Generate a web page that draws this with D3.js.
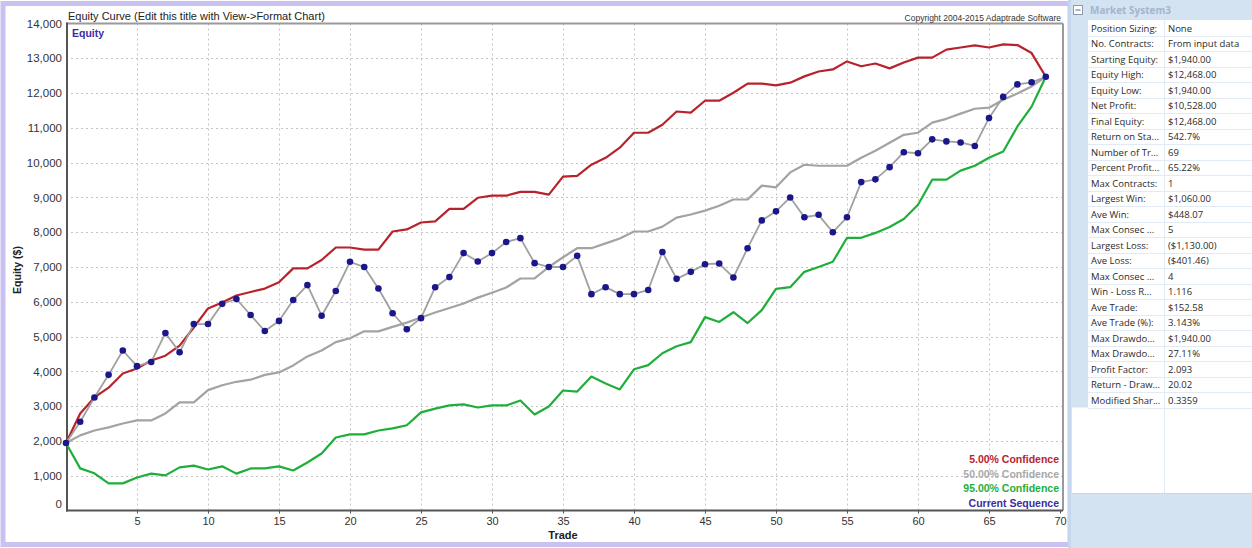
<!DOCTYPE html>
<html lang="en">
<head>
<meta charset="UTF-8">
<title>Equity Curve</title>
<style>
    html, body { margin: 0; padding: 0; background: #fff; }
    svg { display: block; font-family: "Liberation Sans", Arial, sans-serif; }
</style>
</head>
<body>
<svg width="1252" height="548"></svg>
<script src="https://d3js.org/d3.v7.min.js"></script>
<script>
// equity after each trade (trade 0 = starting equity)
const equity = [1940, 2550, 3250, 3900, 4600, 4150, 4270, 5100, 4550, 5360,
    5360, 5940, 6080, 5620, 5160, 5450, 6050, 6480, 5600, 6310,
    7150, 7000, 6380, 5670, 5210, 5530, 6420, 6710, 7400, 7160,
    7400, 7720, 7830, 7110, 7000, 7000, 7320, 6220, 6420, 6220,
    6220, 6340, 7430, 6660, 6860, 7080, 7100, 6700, 7540, 8340,
    8600, 9000, 8430, 8500, 8000, 8430, 9440, 9520, 9870, 10300,
    10270, 10670, 10610, 10580, 10480, 11280, 11890, 12250, 12310, 12468];
const conf5 = [1940, 2790, 3250, 3530, 3940, 4080, 4310, 4450, 4740, 5260,
    5810, 5980, 6180, 6280, 6380, 6560, 6960, 6960, 7200, 7560,
    7560, 7500, 7500, 8020, 8080, 8280, 8310, 8670, 8670, 8990,
    9050, 9050, 9160, 9160, 9080, 9600, 9620, 9940, 10140, 10430,
    10860, 10860, 11090, 11470, 11440, 11780, 11780, 12010, 12270, 12270,
    12220, 12300, 12480, 12620, 12680, 12910, 12770, 12850, 12710, 12880,
    13020, 13020, 13250, 13310, 13370, 13310, 13400, 13380, 13150, 12468];
const conf50 = [1940, 2160, 2300, 2390, 2500, 2590, 2590, 2790, 3110, 3110,
    3460, 3600, 3700, 3760, 3900, 3970, 4170, 4430, 4600, 4840,
    4950, 5150, 5150, 5280, 5400, 5550, 5690, 5820, 5950, 6120,
    6260, 6410, 6670, 6670, 7000, 7280, 7540, 7540, 7680, 7820,
    8020, 8020, 8160, 8420, 8510, 8620, 8760, 8940, 8940, 9340,
    9290, 9720, 9940, 9910, 9910, 9910, 10140, 10340, 10570, 10800,
    10860, 11150, 11260, 11410, 11550, 11580, 11810, 11990, 12190, 12468];
const conf95 = [1940, 1210, 1070, 780, 780, 950, 1060, 1010, 1240, 1290,
    1180, 1270, 1060, 1210, 1210, 1270, 1150, 1380, 1640, 2100,
    2190, 2190, 2300, 2360, 2450, 2820, 2930, 3020, 3050, 2960,
    3020, 3020, 3160, 2760, 2990, 3450, 3420, 3850, 3650, 3480,
    4060, 4180, 4520, 4720, 4840, 5560, 5420, 5700, 5390, 5760,
    6370, 6420, 6860, 7000, 7150, 7840, 7840, 7980, 8150, 8380,
    8790, 9510, 9510, 9770, 9910, 10140, 10320, 11040, 11610, 12468];

const xTicks = [5, 10, 15, 20, 25, 30, 35, 40, 45, 50, 55, 60, 65, 70];
const yTicks = [0, 1000, 2000, 3000, 4000, 5000, 6000, 7000, 8000, 9000, 10000, 11000, 12000, 13000, 14000];

const legendLabels = ["5.00% Confidence", "50.00% Confidence", "95.00% Confidence", "Current Sequence"];
const legendColors = ["#b8232b", "#a9a9a9", "#1fae3a", "#3b2ca3"];

const statLabels = ["Position Sizing:", "No. Contracts:", "Starting Equity:", "Equity High:", "Equity Low:",
    "Net Profit:", "Final Equity:", "Return on Sta...", "Number of Tr...", "Percent Profit...",
    "Max Contracts:", "Largest Win:", "Ave Win:", "Max Consec ...", "Largest Loss:",
    "Ave Loss:", "Max Consec ...", "Win - Loss R...", "Ave Trade:", "Ave Trade (%):",
    "Max Drawdo...", "Max Drawdo...", "Profit Factor:", "Return - Draw...", "Modified Shar..."];
const statValues = ["None", "From input data", "$1,940.00", "$12,468.00", "$1,940.00",
    "$10,528.00", "$12,468.00", "542.7%", "69", "65.22%",
    "1", "$1,060.00", "$448.07", "5", "($1,130.00)",
    "($401.46)", "4", "1.116", "$152.58", "3.143%",
    "$1,940.00", "27.11%", "2.093", "20.02", "0.3359"];

const svg = d3.select("svg");

// outer chart frame
svg.append("rect").attr("x", 0).attr("y", 0).attr("width", 1068).attr("height", 548).attr("fill", "#fff");
svg.append("rect").attr("x", 3).attr("y", 3.5).attr("width", 1067).attr("height", 541)
    .attr("fill", "none").attr("stroke", "#c9c2f0").attr("stroke-width", 5);

const plotLeft = 66, plotRight = 1063, plotTop = 23.5, plotBottom = 510.5;
const x = d3.scaleLinear().domain([0, 70]).range([plotLeft, 1060]);
const y = d3.scaleLinear().domain([0, 14000]).range([plotBottom, plotTop]);

// grid
svg.append("g").selectAll("line").data(yTicks.slice(1, -1)).enter().append("line")
    .attr("x1", plotLeft).attr("x2", plotRight)
    .attr("y1", d => Math.round(y(d)) + 0.5).attr("y2", d => Math.round(y(d)) + 0.5)
    .attr("stroke", "#c4c4c4").attr("stroke-dasharray", "2,3");
svg.append("g").selectAll("line").data(xTicks.slice(0, -1)).enter().append("line")
    .attr("y1", plotTop).attr("y2", plotBottom)
    .attr("x1", d => Math.round(x(d)) + 0.5).attr("x2", d => Math.round(x(d)) + 0.5)
    .attr("stroke", "#c4c4c4").attr("stroke-dasharray", "2,3");

// plot border
svg.append("line").attr("x1", plotLeft).attr("x2", plotRight).attr("y1", plotTop).attr("y2", plotTop)
    .attr("stroke", "#9a9a9a").attr("stroke-width", 2);
svg.append("line").attr("x1", plotRight).attr("x2", plotRight).attr("y1", plotTop).attr("y2", plotBottom)
    .attr("stroke", "#9a9a9a").attr("stroke-width", 2);

// axes
const yAxis = svg.append("g").attr("transform", `translate(${plotLeft},0)`)
    .call(d3.axisLeft(y).tickValues(yTicks).tickSize(0).tickPadding(4).tickFormat(d3.format(",")));
yAxis.select(".domain").remove();
yAxis.selectAll("text").attr("font-size", 11.5).attr("fill", "#333")
    .attr("font-family", "Liberation Sans, Arial, sans-serif")
    .attr("dy", d => d === 0 ? "-0.3em" : "0.32em");

const xAxis = svg.append("g").attr("transform", `translate(0,${plotBottom})`)
    .call(d3.axisBottom(x).tickValues(xTicks).tickSize(3).tickPadding(4));
xAxis.select(".domain").remove();
xAxis.selectAll("line").attr("stroke", "#555");
xAxis.selectAll("text").attr("font-size", 11).attr("fill", "#333")
    .attr("font-family", "Liberation Sans, Arial, sans-serif");

svg.append("line").attr("x1", plotLeft).attr("x2", plotRight).attr("y1", plotBottom).attr("y2", plotBottom)
    .attr("stroke", "#555").attr("stroke-width", 2);
svg.append("line").attr("x1", plotLeft + 1).attr("x2", plotLeft + 1).attr("y1", plotTop - 1).attr("y2", plotBottom + 1)
    .attr("stroke", "#555").attr("stroke-width", 2);

// titles
svg.append("text").attr("x", 68).attr("y", 20).attr("font-size", 11).attr("fill", "#222")
    .text("Equity Curve (Edit this title with View->Format Chart)");
svg.append("text").attr("x", 1061).attr("y", 21).attr("font-size", 8.5).attr("fill", "#333")
    .attr("text-anchor", "end").text("Copyright 2004-2015 Adaptrade Software");
svg.append("text").attr("x", 72).attr("y", 37).attr("font-size", 10.5).attr("font-weight", "bold")
    .attr("fill", "#3b2ca3").text("Equity");
svg.append("text").attr("transform", "translate(21,270) rotate(-90)").attr("text-anchor", "middle")
    .attr("font-size", 10.5).attr("font-weight", "bold").attr("fill", "#222").text("Equity ($)");
svg.append("text").attr("x", 563).attr("y", 539).attr("text-anchor", "middle")
    .attr("font-size", 11).attr("font-weight", "bold").attr("fill", "#222").text("Trade");

// series
const line = d3.line().x((d, i) => x(i)).y(d => y(d));
const series = [
    {values: conf95, color: "#1fae3a", width: 2.2},
    {values: conf50, color: "#a3a3a3", width: 2.2},
    {values: conf5, color: "#b8232b", width: 2.2},
    {values: equity, color: "#a0a0a0", width: 1.8}
];
series.forEach(s => {
    svg.append("path").datum(s.values).attr("d", line)
        .attr("fill", "none").attr("stroke", s.color).attr("stroke-width", s.width)
        .attr("stroke-linejoin", "round");
});
svg.append("g").selectAll("circle").data(equity).enter().append("circle")
    .attr("cx", (d, i) => x(i)).attr("cy", d => y(d)).attr("r", 3.3)
    .attr("fill", "#1c168c");

// legend
svg.append("g").selectAll("text").data(legendLabels).enter().append("text")
    .attr("x", 1059).attr("y", (d, i) => 463 + i * 14.5)
    .attr("text-anchor", "end").attr("font-size", 10.5).attr("font-weight", "bold")
    .attr("fill", (d, i) => legendColors[i]).text(d => d);

// statistics panel
const px = 1068, rowH = 15.5, rowTop = 20;
const panel = svg.append("g").attr("font-family", "Open Sans, Noto Sans, sans-serif");
panel.append("rect").attr("x", px).attr("y", 0).attr("width", 1252 - px).attr("height", 548).attr("fill", "#d4e3f2");
panel.append("rect").attr("x", px).attr("y", 0).attr("width", 3).attr("height", 548).attr("fill", "#c5d6ee");
panel.append("rect").attr("x", 1072).attr("y", rowTop).attr("width", 1252 - 1072).attr("height", 493 - rowTop).attr("fill", "#fff");
panel.append("rect").attr("x", 1072).attr("y", rowTop).attr("width", 16).attr("height", rowH * statLabels.length).attr("fill", "#d4e3f2");
panel.append("line").attr("x1", 1164.5).attr("x2", 1164.5).attr("y1", rowTop).attr("y2", 493).attr("stroke", "#e2eaf3");
panel.append("line").attr("x1", 1072).attr("x2", 1252).attr("y1", 493.5).attr("y2", 493.5).attr("stroke", "#c7d7ea");

panel.selectAll(".row").data(statLabels).enter().append("line")
    .attr("x1", 1088).attr("x2", 1252)
    .attr("y1", (d, i) => Math.round(rowTop + (i + 1) * rowH) + 0.5)
    .attr("y2", (d, i) => Math.round(rowTop + (i + 1) * rowH) + 0.5)
    .attr("stroke", "#e2eaf3");
panel.append("g").selectAll("text").data(statLabels).enter().append("text")
    .attr("x", 1091).attr("y", (d, i) => rowTop + i * rowH + 11.5)
    .attr("font-size", 9.5).attr("fill", "#2a2a2a").text(d => d);
panel.append("g").selectAll("text").data(statValues).enter().append("text")
    .attr("x", 1168).attr("y", (d, i) => rowTop + i * rowH + 11.5)
    .attr("font-size", 9.5).attr("fill", "#2a2a2a").text(d => d);

// header
panel.append("rect").attr("x", 1073.5).attr("y", 5.5).attr("width", 9).attr("height", 9)
    .attr("fill", "#fff").attr("stroke", "#8b9bb2");
panel.append("line").attr("x1", 1075.5).attr("x2", 1080.5).attr("y1", 10).attr("y2", 10).attr("stroke", "#56657a");
panel.append("text").attr("x", 1090).attr("y", 14).attr("font-size", 10).attr("font-weight", "bold")
    .attr("fill", "#a3b6cd").text("Market System3");
</script>
</body>
</html>
